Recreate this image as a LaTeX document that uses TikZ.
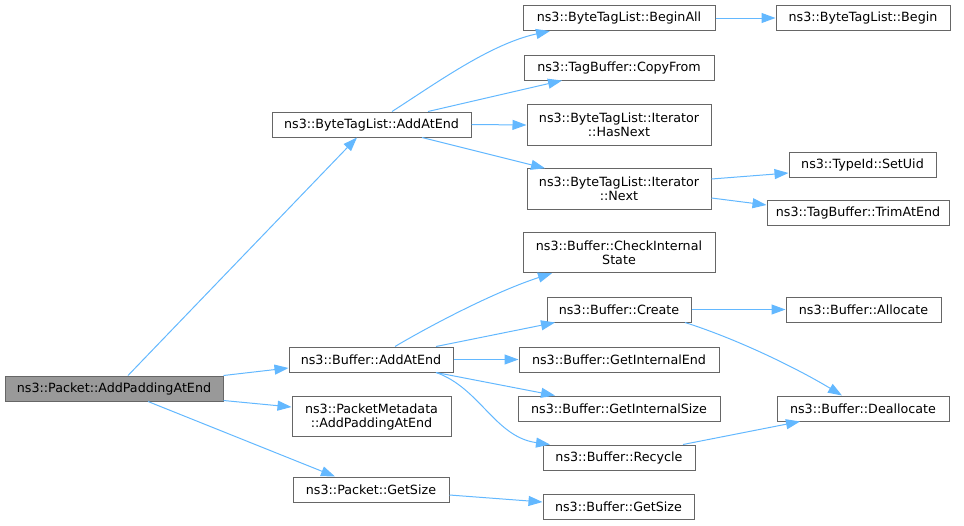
\documentclass[tikz,border=0pt]{standalone}
\usepackage{fontspec}
\setmainfont{DejaVu Sans}
\usepackage{xcolor}
\usetikzlibrary{arrows.meta}
\definecolor{edgeblue}{HTML}{63B8FF}
\definecolor{boxgray}{HTML}{666666}
\definecolor{rootgray}{HTML}{999999}

\begin{document}
\begin{tikzpicture}
    [x=1pt, y=-1pt,
 fn/.style ={rectangle, draw=boxgray, line width=1pt, fill=white, inner sep=0pt, align=center, minimum height=25pt, font=\fontsize{12.7}{14}\selectfont},
 fn2/.style ={fn, minimum height=40.5pt},
 root/.style ={fn, fill=rootgray},
 call/.style ={draw=edgeblue, line width=1pt, -{Triangle[length=14pt,width=10pt]}}]
    \useasboundingbox (0,0) rectangle (964,525);
        % left column
        \node[root, minimum width=218pt] (pape) at (114,388.5) {ns3::Packet::AddPaddingAtEnd};
        % middle column
        \node[fn, minimum width=199pt] (btl) at (371.5,124.5) {ns3::ByteTagList::AddAtEnd};
        \node[fn, minimum width=164pt] (bufadd) at (371,359.5) {ns3::Buffer::AddAtEnd};
        \node[fn2, minimum width=159pt] (pmeta) at (371.5,416.5) {ns3::PacketMetadata\\::AddPaddingAtEnd};
        \node[fn, minimum width=156pt] (pgs) at (371,489.5) {ns3::Packet::GetSize};
        % third column
        \node[fn, minimum width=192pt] (beginall) at (619,18) {ns3::ByteTagList::BeginAll};
        \node[fn, minimum width=190pt] (copyfrom) at (619,67.5) {ns3::TagBuffer::CopyFrom};
        \node[fn2, minimum width=184pt] (hasnext) at (619,125) {ns3::ByteTagList::Iterator\\::HasNext};
        \node[fn2, minimum width=184pt] (next) at (619,189) {ns3::ByteTagList::Iterator\\::Next};
        \node[fn2, minimum width=192pt] (check) at (619,252.5) {ns3::Buffer::CheckInternal\\State};
        \node[fn, minimum width=144pt] (create) at (619,309.5) {ns3::Buffer::Create};
        \node[fn, minimum width=200pt] (gie) at (619,359.5) {ns3::Buffer::GetInternalEnd};
        \node[fn, minimum width=202pt] (gis) at (619,408.5) {ns3::Buffer::GetInternalSize};
        \node[fn, minimum width=152pt] (recycle) at (619,457.5) {ns3::Buffer::Recycle};
        \node[fn, minimum width=151pt] (bgs) at (618.5,507) {ns3::Buffer::GetSize};
        % right column
        \node[fn, minimum width=174pt] (begin) at (863,18) {ns3::ByteTagList::Begin};
        \node[fn, minimum width=147pt] (setuid) at (862.5,164.5) {ns3::TypeId::SetUid};
        \node[fn, minimum width=182pt] (trim) at (858,213) {ns3::TagBuffer::TrimAtEnd};
        \node[fn, minimum width=155pt] (alloc) at (863.5,309.5) {ns3::Buffer::Allocate};
        \node[fn, minimum width=172pt] (dealloc) at (863,408.5) {ns3::Buffer::Deallocate};
        % calls
        \draw[call] ([xshift=14pt]pape.north) -- ([xshift=-14.5pt]btl.south);
        \draw[call] (pape.north east) -- ([yshift=-8.5pt]bufadd.west);
        \draw[call] ([yshift=1pt]pape.south east) -- ([yshift=9.5pt]pmeta.west);
        \draw[call] ([xshift=34pt]pape.south) -- ([xshift=-36pt]pgs.north);
        \draw[call] ([xshift=20.5pt]btl.north) .. controls (435,84) and (490,44) .. ([xshift=-69pt]beginall.south);
        \draw[call] ([xshift=56.5pt]btl.north) -- ([xshift=-57pt]copyfrom.south);
        \draw[call] (btl.east) -- (hasnext.west);
        \draw[call] ([xshift=50.5pt]btl.south) -- ([xshift=-74pt]next.north);
        \draw[call] ([yshift=10pt]next.east) -- ([yshift=-8.5pt]setuid.west);
        \draw[call] ([yshift=-9pt]next.east) -- ([yshift=8pt]trim.west);
        \draw[call] (beginall.east) -- (begin.west);
        \draw[call] ([xshift=24pt]bufadd.north) .. controls (440,320) and (500,290) .. ([xshift=-67pt]check.south);
        \draw[call] ([xshift=65pt]bufadd.north) -- ([xshift=-64pt]create.south);
        \draw[call] (bufadd.east) -- (gie.west);
        \draw[call] ([xshift=65pt]bufadd.south) -- ([xshift=-64pt]gis.north);
        \draw[call] ([xshift=65pt]bufadd.south) .. controls (480,388) and (495,437) .. ([xshift=-69pt]recycle.north);
        \draw[call] (create.east) -- (alloc.west);
        \draw[call] ([xshift=66pt]create.south) .. controls (740,340) and (800,370) .. ([xshift=-21pt]dealloc.north);
        \draw[call] ([xshift=64pt]recycle.north) -- ([xshift=-63pt]dealloc.south);
        \draw[call] ([yshift=-5.5pt]pgs.east) -- ([yshift=5pt]bgs.west);
    \end{tikzpicture}
\end{document}
